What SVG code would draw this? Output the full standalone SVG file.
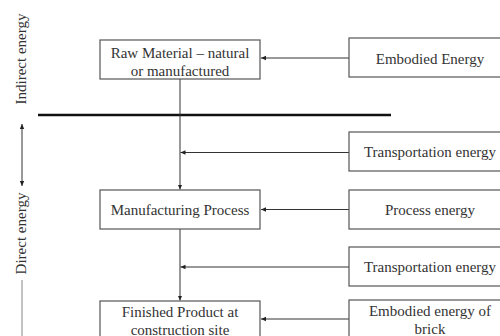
<svg xmlns="http://www.w3.org/2000/svg" width="500" height="336" viewBox="0 0 500 336">
<defs>
<marker id="ah" markerWidth="6" markerHeight="6" refX="5" refY="3" orient="auto" markerUnits="userSpaceOnUse">
<path d="M0,0.8 L5,3 L0,5.2 Z" fill="#222"/>
</marker>
<marker id="ahs" markerWidth="6" markerHeight="6" refX="0" refY="3" orient="auto" markerUnits="userSpaceOnUse">
<path d="M5,0.8 L0,3 L5,5.2 Z" fill="#222"/>
</marker>
<style>
.box{fill:#fff;stroke:#555;stroke-width:1.2}
.t{font-family:"Liberation Serif","Times New Roman",serif;font-size:15px;fill:#333;text-anchor:middle}
.c{stroke:#333;stroke-width:1;fill:none}
</style>
</defs>
<rect width="500" height="336" fill="#fff"/>
<g id="labels">
<text class="t" transform="translate(26,59) rotate(-90)">Indirect energy</text>
<text class="t" transform="translate(26,233.5) rotate(-90)">Direct energy</text>
<line x1="22" y1="124" x2="22" y2="186" class="c" marker-start="url(#ahs)" marker-end="url(#ah)"/>
<line x1="22" y1="280" x2="22" y2="336" stroke="#999" stroke-width="1.2"/>
<line x1="38" y1="115" x2="391" y2="115" stroke="#111" stroke-width="2.5"/>
</g>
<g id="connectors">
<line class="c" x1="349" y1="58" x2="261" y2="58" marker-end="url(#ah)"/>
<line class="c" x1="180" y1="79" x2="180" y2="189.5" marker-end="url(#ah)"/>
<line class="c" x1="349" y1="152.5" x2="180.5" y2="152.5" marker-end="url(#ah)"/>
<line class="c" x1="349" y1="209.5" x2="261" y2="209.5" marker-end="url(#ah)"/>
<line class="c" x1="180" y1="229" x2="180" y2="300.5" marker-end="url(#ah)"/>
<line class="c" x1="349" y1="267" x2="180.5" y2="267" marker-end="url(#ah)"/>
<line class="c" x1="349" y1="319" x2="261" y2="319" marker-end="url(#ah)"/>
</g>
<g id="raw-material">
<rect class="box" x="100" y="40" width="160" height="39"/>
<text class="t" x="180" y="57.5">Raw Material – natural</text>
<text class="t" x="180" y="75.5">or manufactured</text>
</g>
<g id="embodied-energy">
<rect class="box" x="349" y="38" width="162" height="39"/>
<text class="t" x="430" y="63.5">Embodied Energy</text>
</g>
<g id="transport-1">
<rect class="box" x="349" y="132" width="162" height="39"/>
<text class="t" x="430" y="157">Transportation energy</text>
</g>
<g id="manufacturing">
<rect class="box" x="100" y="190" width="160" height="39"/>
<text class="t" x="180" y="215">Manufacturing Process</text>
</g>
<g id="process-energy">
<rect class="box" x="349" y="190" width="162" height="39"/>
<text class="t" x="430" y="215">Process energy</text>
</g>
<g id="transport-2">
<rect class="box" x="349" y="247" width="162" height="39"/>
<text class="t" x="430" y="272">Transportation energy</text>
</g>
<g id="finished-product">
<rect class="box" x="100" y="301" width="160" height="45"/>
<text class="t" x="180" y="317">Finished Product at</text>
<text class="t" x="180" y="335">construction site</text>
</g>
<g id="embodied-brick">
<rect class="box" x="349" y="300" width="162" height="46"/>
<text class="t" x="430" y="315.5">Embodied energy of</text>
<text class="t" x="430" y="333.5">brick</text>
</g>
</svg>
